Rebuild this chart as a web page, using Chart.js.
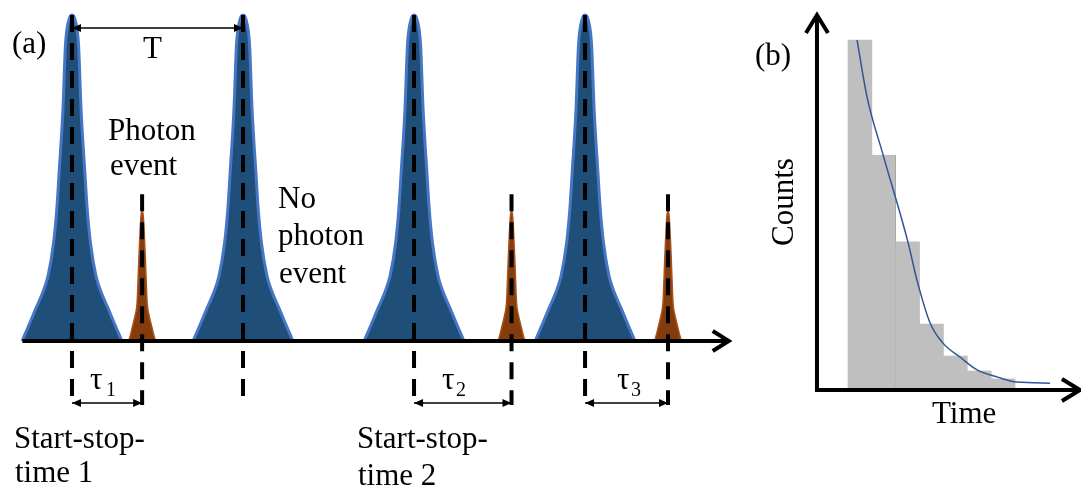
<!DOCTYPE html>
<html lang="en">
<head>
  <meta charset="UTF-8" />
  <title>Start-stop timing and decay histogram</title>
  <script src="https://cdn.jsdelivr.net/npm/chart.js"></script>
  <style>
    body {
      margin: 0;
      background: #fff;
    }

    #wrap {
      position: relative;
      width: 1081px;
      height: 491px;
      overflow: hidden;
      font-family: 'Liberation Serif', 'Times New Roman', serif;
      color: #000;
    }

    canvas {
      position: absolute;
      top: 0;
    }

    #chartA { left: 0; }
    #chartB { left: 740px; }

    .lbl {
      position: absolute;
      font-size: 31px;
      line-height: 31px;
      white-space: nowrap;
    }

    .sub {
      position: absolute;
      font-size: 20px;
      line-height: 20px;
    }

    #counts {
      position: absolute;
      left: 782px;
      top: 202px;
      font-size: 31px;
      line-height: 31px;
      white-space: nowrap;
      transform: translate(-50%, -50%) rotate(-90deg);
    }
  </style>
</head>
<body>
  <div id="wrap">
    <canvas id="chartA" width="740" height="491"></canvas>
    <canvas id="chartB" width="341" height="491"></canvas>

    <div class="lbl" style="left:12px; top:27px;">(a)</div>
    <div class="lbl" style="left:143px; top:32px;">T</div>
    <div class="lbl" style="left:108px; top:114px;">Photon</div>
    <div class="lbl" style="left:110px; top:149px;">event</div>
    <div class="lbl" style="left:278px; top:182px;">No</div>
    <div class="lbl" style="left:278px; top:219px;">photon</div>
    <div class="lbl" style="left:279px; top:257px;">event</div>

    <div class="lbl" style="left:90px; top:363px;">τ</div>
    <div class="sub" style="left:106px; top:379px;">1</div>
    <div class="lbl" style="left:442px; top:363px;">τ</div>
    <div class="sub" style="left:456px; top:379px;">2</div>
    <div class="lbl" style="left:617px; top:363px;">τ</div>
    <div class="sub" style="left:631px; top:379px;">3</div>

    <div class="lbl" style="left:14px; top:422px;">Start-stop-</div>
    <div class="lbl" style="left:15px; top:456px;">time 1</div>
    <div class="lbl" style="left:357px; top:422px;">Start-stop-</div>
    <div class="lbl" style="left:358px; top:459px;">time 2</div>

    <div class="lbl" style="left:755px; top:39px;">(b)</div>
    <div id="counts">Counts</div>
    <div class="lbl" style="left:932px; top:397px;">Time</div>
  </div>

  <script>
    // (a) time in units where the laser period T = 10
    const pulseTimes = [0, 10, 20, 30];
    const photonTimes = [4.1, 25.7, 34.85];
    const startStop = [[0, 4.1], [20, 25.7], [30, 34.85]];

    // one pulse / one photon peak: [offset from centre, height]
    const pulseShape = [[-2.92, 0], [-2.51, 0.05], [-2.11, 0.10], [-1.70, 0.15], [-1.40, 0.20],
      [-1.08, 0.30], [-0.88, 0.41], [-0.76, 0.51], [-0.53, 0.71], [-0.38, 0.91], [-0.18, 0.985],
      [0, 1], [0.18, 0.985], [0.38, 0.91], [0.53, 0.71], [0.76, 0.51], [0.88, 0.41], [1.08, 0.30],
      [1.40, 0.20], [1.70, 0.15], [2.11, 0.10], [2.51, 0.05], [2.92, 0]];
    const photonShape = [[-0.79, 0], [-0.7, 0.015], [-0.56, 0.045], [-0.4, 0.08], [-0.29, 0.12],
      [-0.175, 0.27], [-0.07, 0.38], [0, 0.40], [0.07, 0.38], [0.175, 0.27], [0.29, 0.12],
      [0.4, 0.08], [0.56, 0.045], [0.7, 0.015], [0.79, 0]];

    const pulseMarkTop = 1.0;
    const photonMarkTop = 0.45;
    const markBottom = -0.196;
    const tauLevel = -0.19;
    const periodLevel = 0.96;
    const axisStart = -2.9;
    const axisEnd = 38.4;

    // (b) histogram of start-stop times and the decay fit
    const bins = [0.5, 1.5, 2.5, 3.5, 4.5, 5.5, 6.5];
    const counts = [100, 67, 42, 18.4, 9.2, 4.9, 2.6];
    const fitX = [0.38, 0.80, 1.47, 2.51, 2.89, 3.44, 3.98, 4.69, 5.41, 6.24, 7.08, 8.47];
    const fitY = [100, 83.6, 67, 42, 31, 18.7, 12.9, 8.9, 5.2, 3.2, 1.7, 1.4];

    function head(ctx, x, y, dx, dy, len, half, open) {
      const bx = x - dx * len, by = y - dy * len;
      ctx.beginPath();
      ctx.moveTo(bx - dy * half, by + dx * half);
      ctx.lineTo(x, y);
      ctx.lineTo(bx + dy * half, by - dx * half);
      if (open) {
        ctx.stroke();
      } else {
        ctx.closePath();
        ctx.fill();
      }
    }

    const arrowHeads = {
      id: 'arrowHeads',
      afterDatasetsDraw(chart) {
        const ctx = chart.ctx;
        chart.data.datasets.forEach((ds, i) => {
          if (!ds.heads) return;
          const pts = chart.getDatasetMeta(i).data;
          const n = pts.length;
          const ends = [[pts[n - 1], pts[n - 2]]];
          if (ds.heads === 'both') ends.push([pts[0], pts[1]]);
          ctx.save();
          ctx.strokeStyle = ds.borderColor;
          ctx.fillStyle = ds.borderColor;
          ctx.lineWidth = ds.borderWidth;
          ctx.lineJoin = 'miter';
          ends.forEach(([tip, from]) => {
            const d = Math.hypot(tip.x - from.x, tip.y - from.y);
            head(ctx, tip.x, tip.y, (tip.x - from.x) / d, (tip.y - from.y) / d,
              ds.headLen, ds.headHalf, ds.heads === 'end');
          });
          ctx.restore();
        });
      }
    };

    function seg(x1, y1, x2, y2) {
      return [{ x: x1, y: y1 }, { x: x2, y: y2 }];
    }

    const datasetsA = [];

    pulseTimes.forEach(t => {
      datasetsA.push({ data: seg(t, pulseMarkTop, t, markBottom), borderColor: '#000',
        borderWidth: 4, borderDash: [17, 11], order: 0 });
    });
    photonTimes.forEach(t => {
      datasetsA.push({ data: seg(t, photonMarkTop, t, markBottom), borderColor: '#000',
        borderWidth: 4, borderDash: [17, 11], order: 0 });
    });

    datasetsA.push({ data: seg(pulseTimes[0], periodLevel, pulseTimes[1], periodLevel),
      borderColor: '#000', borderWidth: 1.5, heads: 'both', headLen: 9, headHalf: 4, order: 1 });
    startStop.forEach(([a, b]) => {
      datasetsA.push({ data: seg(a, tauLevel, b, tauLevel), borderColor: '#000',
        borderWidth: 1.5, heads: 'both', headLen: 9, headHalf: 4, order: 1 });
    });

    datasetsA.push({ data: seg(axisStart, 0, axisEnd, 0), borderColor: '#000', borderWidth: 4,
      heads: 'end', headLen: 16, headHalf: 10, order: 1 });

    photonTimes.forEach(t => {
      datasetsA.push({
        data: photonShape.map(([dx, h]) => ({ x: t + dx, y: h })),
        borderColor: '#a9521a', borderWidth: 1.5, backgroundColor: '#843c0c',
        fill: 'origin', cubicInterpolationMode: 'monotone', order: 2
      });
    });
    pulseTimes.forEach(t => {
      datasetsA.push({
        data: pulseShape.map(([dx, h]) => ({ x: t + dx, y: h })),
        borderColor: '#4676c6', borderWidth: 3, backgroundColor: '#1f4e79',
        fill: 'origin', cubicInterpolationMode: 'monotone', order: 2
      });
    });

    const baseOptions = {
      responsive: false,
      animation: false,
      devicePixelRatio: 1,
      layout: { padding: 0 },
      elements: { point: { radius: 0 } },
      plugins: { legend: { display: false }, tooltip: { enabled: false } }
    };

    new Chart(document.getElementById('chartA'), {
      type: 'line',
      data: { datasets: datasetsA },
      options: {
        ...baseOptions,
        scales: {
          x: { type: 'linear', display: false, min: -4.21, max: 39.06, offset: false },
          y: { type: 'linear', display: false, min: -0.46, max: 1.046 }
        }
      },
      plugins: [arrowHeads]
    });

    new Chart(document.getElementById('chartB'), {
      type: 'line',
      data: {
        datasets: [
          { type: 'line', data: seg(-1.3, -1.15, -1.3, 107.2), borderColor: '#000', borderWidth: 4,
            heads: 'end', headLen: 18, headHalf: 11, order: 0 },
          { type: 'line', data: seg(-1.38, -0.57, 9.72, -0.57), borderColor: '#000', borderWidth: 4,
            heads: 'end', headLen: 18, headHalf: 11, order: 0 },
          { type: 'line', data: fitX.map((x, i) => ({ x, y: fitY[i] })), borderColor: '#2f5597',
            borderWidth: 1.5, cubicInterpolationMode: 'monotone', order: 1 },
          { type: 'bar', data: bins.map((x, i) => ({ x, y: counts[i] })), backgroundColor: '#bfbfbf',
            borderColor: '#a6a6a6', borderSkipped: false,
            borderWidth: c => (c.dataIndex === 1 ? { top: 0, right: 1, bottom: 0, left: 0 } : 0),
            barPercentage: 1, categoryPercentage: 1, order: 3 }
        ]
      },
      options: {
        ...baseOptions,
        scales: {
          x: { type: 'linear', display: false, min: -4.526, max: 9.765, offset: false },
          y: { type: 'linear', display: false, min: -29.6, max: 111.5 }
        }
      },
      plugins: [arrowHeads]
    });
  </script>
</body>
</html>
